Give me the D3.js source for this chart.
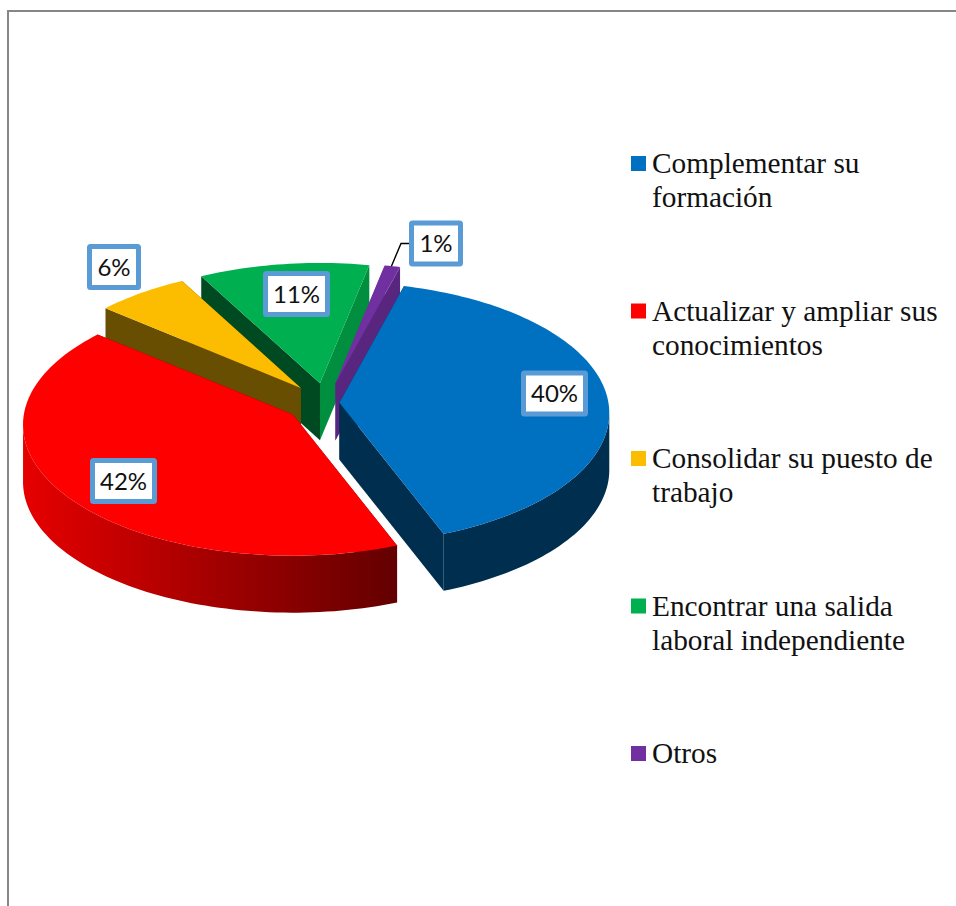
<!DOCTYPE html>
<html>
<head>
<meta charset="utf-8">
<script src="https://cdn.jsdelivr.net/npm/d3@7"></script>
<style>
  html, body { margin: 0; padding: 0; background: #fff; }
  svg { display: block; }
  .legend-text { font-family: "Liberation Serif", serif; font-size: 29.3px; fill: #111; }
  .label-text { font-family: Lato, "Open Sans", sans-serif; font-size: 24px; fill: #111; }
</style>
</head>
<body>
<svg id="chart"></svg>
<script>
// data
const categories = ['Complementar su formación', 'Actualizar y ampliar sus conocimientos',
  'Consolidar su puesto de trabajo', 'Encontrar una salida laboral independiente', 'Otros'];
const values = [40, 42, 6, 11, 1];
const legendLines = [['Complementar su', 'formación'], ['Actualizar y ampliar sus', 'conocimientos'],
  ['Consolidar su puesto de', 'trabajo'], ['Encontrar una salida', 'laboral independiente'], ['Otros']];

// colours of the top face, of the two cut faces and of the rim
const topColors = ['#0070c0', '#ff0000', '#fcbd00', '#00b050', '#7030a0'];
const startFaceColors = ['#002e4f', '#660000', '#674e00', '#004a21', '#7030a0'];
const endFaceColors = ['#002e4f', '#660000', '#674e00', '#008f3e', '#58267f'];
const rimColors = ['#002e4f', 'url(#redRim)', '#674e00', '#008f3e', '#58267f'];

const width = 956, height = 906;
const center = {x: 326, y: 403};
const rx = 269, ry = 130, perspective = 0.08, depth = 57;
// how far each slice is pulled out of the pie
const explode = [0.05, 0.15, 0.15, 0.155, 0.155];
// label boxes, moved by hand in the original
const labelX = [554.5, 123.5, 114, 296.5, 436];
const labelY = [393.5, 481, 267, 294, 243.5];
const labelW = [67, 67, 54, 67, 54];
const labelH = 46;

const svg = d3.select('#chart').attr('width', width).attr('height', height);

const defs = svg.append('defs');
const redRim = defs.append('linearGradient').attr('id', 'redRim')
  .attr('gradientUnits', 'userSpaceOnUse')
  .attr('x1', 23).attr('x2', 394).attr('y1', 0).attr('y2', 0);
redRim.append('stop').attr('offset', 0).attr('stop-color', '#e60000');
redRim.append('stop').attr('offset', 1).attr('stop-color', '#640000');

// frame of the chart area
svg.append('path')
  .attr('d', d3.line()([[8, height], [8, 11], [width, 11]]))
  .attr('fill', 'none').attr('stroke', '#868686').attr('stroke-width', 2);

// flat disc seen from above with a bit of perspective, so the front looks bigger
function project(r, angle) {
  const X = r * Math.sin(angle), Y = -r * Math.cos(angle);
  const w = 1 - perspective * Y;
  return [rx * X / w, ry * Y / w];
}

const pie = d3.pie().sort(null).value(d => d)
  .startAngle(15 * Math.PI / 180).endAngle(375 * Math.PI / 180);
const line = d3.line();

const slices = pie(values).map((d, i) => {
  const mid = (d.startAngle + d.endAngle) / 2;
  const off = project(explode[i], mid);
  const apex = [center.x + off[0], center.y + off[1]];
  const steps = Math.max(4, Math.ceil((d.endAngle - d.startAngle) * 40));
  const angles = d3.range(steps + 1).map(s => d.startAngle + (d.endAngle - d.startAngle) * s / steps);
  const place = a => {
    const p = project(1, a);
    return [apex[0] + p[0], apex[1] + p[1]];
  };
  return {
    i, apex,
    rim: angles.map(place),
    // only the front part of the rim can be seen
    frontRim: angles.filter(a => Math.cos(a) <= -perspective).map(place)
  };
});

const down = p => [p[0], p[1] + depth];

// back to front, the later slices hide what they have to
const drawOrder = [3, 2, 4, 0, 1];
const g = svg.append('g');
drawOrder.forEach(i => {
  const s = slices[i];
  const first = s.rim[0], last = s.rim[s.rim.length - 1];
  g.append('path').attr('d', line([s.apex, first, down(first), down(s.apex)]) + 'Z')
    .attr('fill', startFaceColors[i]);
  g.append('path').attr('d', line([s.apex, last, down(last), down(s.apex)]) + 'Z')
    .attr('fill', endFaceColors[i]);
  if (s.frontRim.length > 1) {
    g.append('path').attr('d', line(s.frontRim.concat(s.frontRim.map(down).reverse())) + 'Z')
      .attr('fill', rimColors[i]);
  }
  g.append('path').attr('d', line([s.apex].concat(s.rim)) + 'Z')
    .attr('fill', topColors[i]);
});

// leader line of the smallest slice
const small = slices[4].rim[2];
svg.append('path')
  .attr('d', line([[small[0] - 1, small[1]], [labelX[4] - 35, labelY[4]], [labelX[4] - 27, labelY[4]]]))
  .attr('fill', 'none').attr('stroke', '#000').attr('stroke-width', 1.4);

// value labels
const labels = svg.append('g').selectAll('g').data(values).join('g')
  .attr('transform', (d, i) => `translate(${labelX[i]},${labelY[i]})`);
labels.append('rect')
  .attr('x', (d, i) => -labelW[i] / 2 + 2.5).attr('y', -labelH / 2 + 2.5)
  .attr('width', (d, i) => labelW[i] - 5).attr('height', labelH - 5)
  .attr('rx', 1).attr('fill', '#fff')
  .attr('stroke', '#5b9bd5').attr('stroke-width', 5);
labels.append('text').attr('class', 'label-text')
  .attr('text-anchor', 'middle').attr('y', 8.5)
  .text(d => d + '%');

// legend
const legendY = d3.scalePoint().domain(categories).range([164, 754]);
const legend = svg.append('g').selectAll('g').data(categories).join('g')
  .attr('transform', d => `translate(631,${legendY(d)})`);
legend.append('rect').attr('y', -8).attr('width', 15).attr('height', 15)
  .attr('fill', (d, i) => topColors[i]);
legend.each(function (d, i) {
  d3.select(this).selectAll('text').data(legendLines[i]).join('text')
    .attr('class', 'legend-text')
    .attr('x', 21).attr('y', (t, j) => 9 + j * 34)
    .text(t => t);
});
</script>
</body>
</html>
